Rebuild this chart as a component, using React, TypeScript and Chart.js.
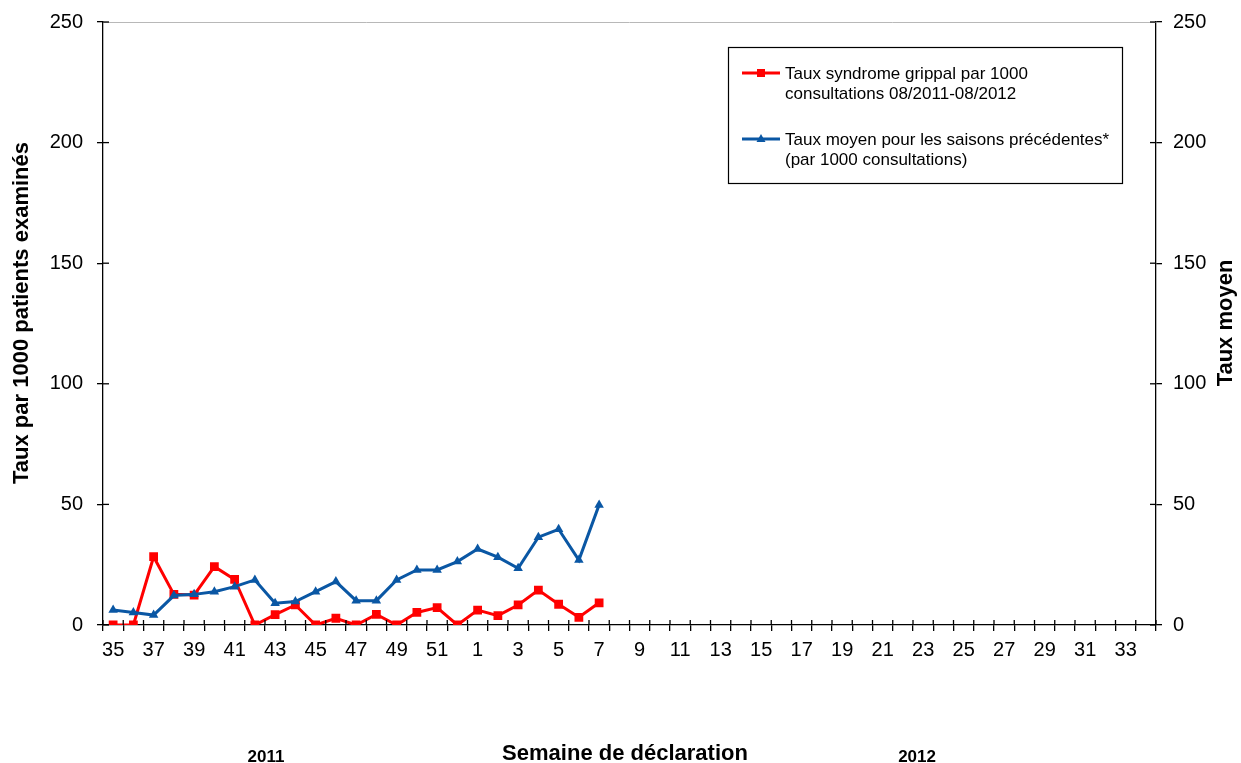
import React, { useEffect, useRef } from "react";
import { Chart, registerables } from "chart.js";

Chart.register(...registerables);

const weeks: string[] = [
  "35", "36", "37", "38", "39", "40", "41", "42", "43", "44", "45", "46", "47", "48", "49", "50", "51", "52",
  "1", "2", "3", "4", "5", "6", "7", "8", "9", "10", "11", "12", "13", "14", "15", "16", "17", "18", "19", "20",
  "21", "22", "23", "24", "25", "26", "27", "28", "29", "30", "31", "32", "33", "34",
];

const syndromeRate: number[] = [
  0, 0, 28.3, 12.7, 12.4, 24.2, 18.9, 0, 4.3, 8.3, 0, 2.8, 0, 4.4, 0, 5.2, 7.2, 0,
  6.2, 3.9, 8.3, 14.5, 8.6, 3.2, 9.2,
];

const averageRate: number[] = [
  6.2, 5.2, 4.1, 12.2, 12.7, 13.8, 15.9, 18.7, 9.0, 9.7, 13.8, 18.0, 10.1, 10.1, 18.7, 22.8, 22.8, 26.3,
  31.5, 28.1, 23.5, 36.4, 39.7, 26.9, 49.8,
];

const yTicks: number[] = [0, 50, 100, 150, 200, 250];

const legendLines1: string[] = ["Taux syndrome grippal par 1000", "consultations 08/2011-08/2012"];
const legendLines2: string[] = ["Taux moyen pour les saisons précédentes*", "(par 1000 consultations)"];
const leftTitle = "Taux par 1000 patients examinés";
const rightTitle = "Taux moyen";
const xTitle = "Semaine de déclaration";
const yearLabels: { text: string; at: number }[] = [
  { text: "2011", at: 7.55 },
  { text: "2012", at: 39.7 },
];

const RED = "#FF0000";
const BLUE = "#0A57A4";
const FONT = "'Liberation Sans', Arial, sans-serif";

const decor = {
  id: "decor",
  afterDraw(chart: any) {
    const { ctx, chartArea: ca, scales } = chart;
    const x = scales.x;
    const y = scales.y;
    const line = (x1: number, y1: number, x2: number, y2: number) => {
      ctx.beginPath();
      ctx.moveTo(x1, y1);
      ctx.lineTo(x2, y2);
      ctx.stroke();
    };
    ctx.save();
    // top border
    ctx.strokeStyle = "#b8b8b8";
    ctx.lineWidth = 1;
    line(ca.left, Math.round(ca.top) + 0.5, ca.right, Math.round(ca.top) + 0.5);

    // inner tick extensions
    ctx.strokeStyle = "#000";
    ctx.lineWidth = 1.3;
    const step = x.getPixelForValue(1) - x.getPixelForValue(0);
    for (let i = 0; i <= weeks.length; i++) {
      const px = x.getPixelForValue(i) - step / 2;
      line(px, ca.bottom, px, ca.bottom - 5);
    }
    for (const v of yTicks) {
      const py = y.getPixelForValue(v);
      line(ca.left, py, ca.left + 6, py);
      line(ca.right, py, ca.right - 6, py);
    }

    // titles
    ctx.fillStyle = "#000";
    ctx.textAlign = "center";
    ctx.textBaseline = "middle";
    ctx.font = `bold 22px ${FONT}`;
    ctx.save();
    ctx.translate(22, 313);
    ctx.rotate(-Math.PI / 2);
    ctx.fillText(leftTitle, 0, 0);
    ctx.restore();
    ctx.save();
    ctx.translate(1226, 323);
    ctx.rotate(-Math.PI / 2);
    ctx.fillText(rightTitle, 0, 0);
    ctx.restore();
    ctx.fillText(xTitle, 625, 754);
    ctx.font = `bold 17px ${FONT}`;
    for (const yl of yearLabels) {
      ctx.fillText(yl.text, x.getPixelForValue(yl.at), 757);
    }

    // legend
    ctx.lineWidth = 1.2;
    ctx.strokeStyle = "#000";
    ctx.strokeRect(728.5, 47.5, 394, 136);
    ctx.lineWidth = 3;
    ctx.strokeStyle = RED;
    line(742, 73, 780, 73);
    ctx.fillStyle = RED;
    ctx.fillRect(757, 69, 8, 8);
    ctx.strokeStyle = BLUE;
    line(742, 139, 780, 139);
    ctx.fillStyle = BLUE;
    ctx.beginPath();
    ctx.moveTo(761, 134);
    ctx.lineTo(765.5, 142);
    ctx.lineTo(756.5, 142);
    ctx.closePath();
    ctx.fill();

    ctx.fillStyle = "#000";
    ctx.textAlign = "left";
    ctx.font = `17px ${FONT}`;
    ctx.fillText(legendLines1[0], 785, 74);
    ctx.fillText(legendLines1[1], 785, 94);
    ctx.fillText(legendLines2[0], 785, 140);
    ctx.fillText(legendLines2[1], 785, 160);
    ctx.restore();
  },
};

export default function App() {
  const ref = useRef<HTMLCanvasElement>(null);
  useEffect(() => {
    document.body.style.margin = "0";
    Chart.defaults.font.family = FONT;
    const chart = new Chart(ref.current!, {
      type: "line",
      data: {
        labels: weeks,
        datasets: [
          {
            label: legendLines1.join(" "),
            data: syndromeRate,
            borderColor: RED,
            backgroundColor: RED,
            borderWidth: 3,
            pointStyle: "rect",
            pointRadius: 6.2,
            pointBorderWidth: 0,
            tension: 0,
            yAxisID: "y",
            order: 1,
          },
          {
            label: legendLines2.join(" "),
            data: averageRate,
            borderColor: BLUE,
            backgroundColor: BLUE,
            borderWidth: 3,
            pointStyle: "triangle",
            pointRadius: 5.5,
            pointBorderWidth: 0,
            tension: 0,
            yAxisID: "y",
            order: 0,
          },
        ],
      },
      options: {
        responsive: false,
        animation: false,
        layout: { padding: { top: 22, left: 0, right: 0, bottom: 0 } },
        plugins: { legend: { display: false }, tooltip: { enabled: false } },
        scales: {
          x: {
            type: "category",
            offset: true,
            grid: {
              display: true,
              offset: true,
              drawOnChartArea: false,
              color: "#000",
              lineWidth: 1.3,
              tickLength: 6,
            },
            border: { display: true, color: "#000", width: 1.3 },
            ticks: {
              autoSkip: false,
              maxRotation: 0,
              color: "#000",
              font: { size: 20 },
              padding: 7,
              callback: (_v: any, i: number) => (i % 2 === 0 ? weeks[i] : ""),
            },
            afterFit: (s: any) => {
              s.height = 138;
              s.paddingLeft = 0;
              s.paddingRight = 0;
            },
          },
          y: {
            position: "left",
            min: 0,
            max: 250,
            afterBuildTicks: (s: any) => {
              s.ticks = yTicks.map((v) => ({ value: v }));
            },
            grid: { display: true, drawOnChartArea: false, color: "#000", lineWidth: 1.3, tickLength: 6 },
            border: { display: true, color: "#000", width: 1.3 },
            ticks: { color: "#000", font: { size: 20 }, padding: 14 },
            afterFit: (s: any) => {
              s.width = 103;
              s.paddingTop = 0;
              s.paddingBottom = 0;
            },
          },
          y2: {
            position: "right",
            min: 0,
            max: 250,
            afterBuildTicks: (s: any) => {
              s.ticks = yTicks.map((v) => ({ value: v }));
            },
            grid: { display: true, drawOnChartArea: false, color: "#000", lineWidth: 1.3, tickLength: 6 },
            border: { display: true, color: "#000", width: 1.3 },
            ticks: { color: "#000", font: { size: 20 }, padding: 11 },
            afterFit: (s: any) => {
              s.width = 85;
              s.paddingTop = 0;
              s.paddingBottom = 0;
            },
          },
        },
      },
      plugins: [decor],
    });
    return () => chart.destroy();
  }, []);
  return (
    <div style={{ position: "absolute", left: 0, top: 0, width: 1241, height: 763, background: "#fff" }}>
      <canvas ref={ref} width={1241} height={763} style={{ display: "block" }} />
    </div>
  );
}
